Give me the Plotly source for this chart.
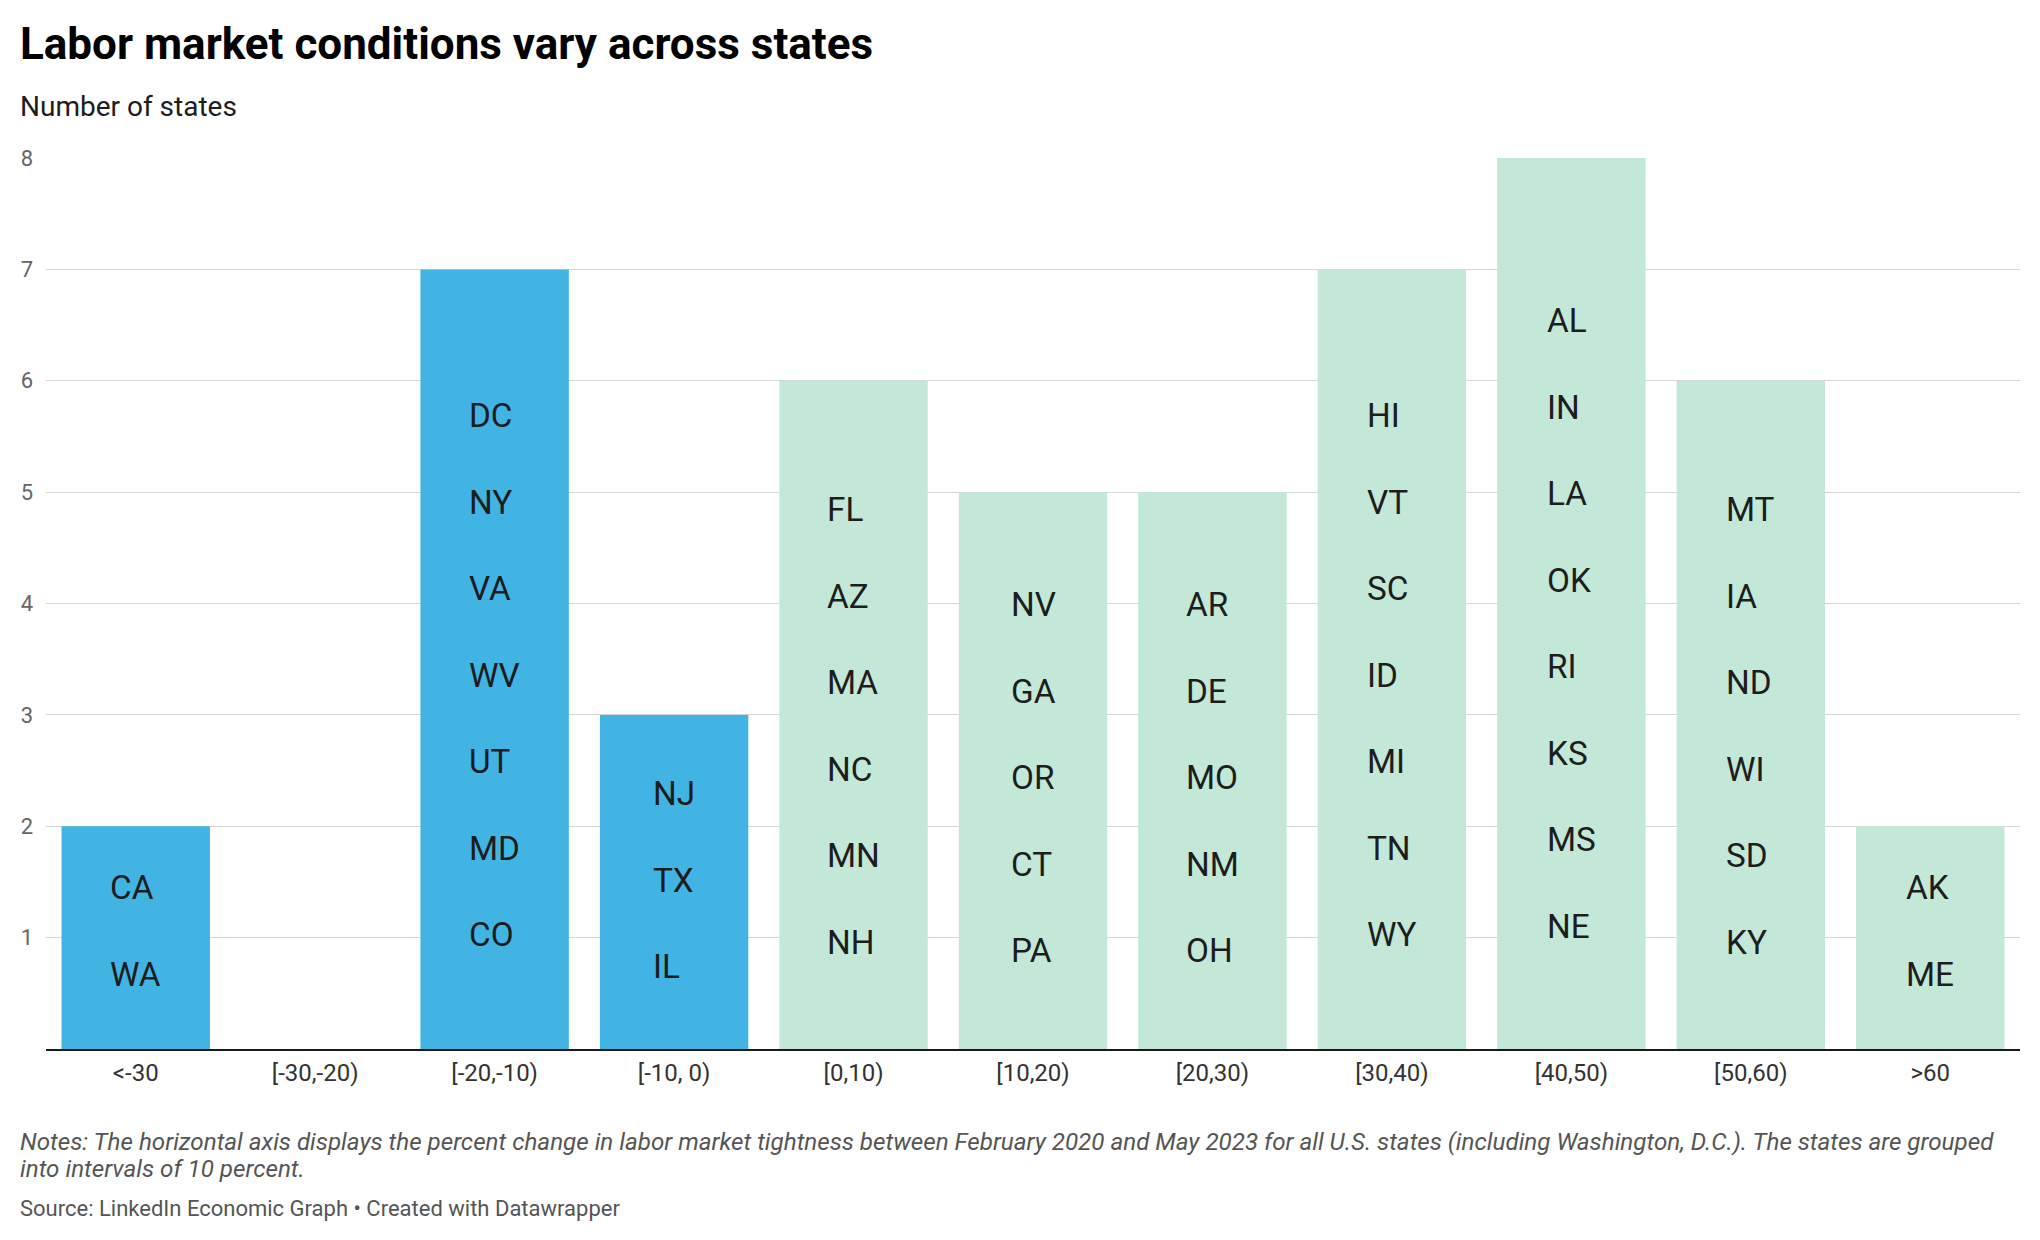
import plotly.graph_objects as go

# ---- data ----
categories = ["<-30", "[-30,-20)", "[-20,-10)", "[-10, 0)", "[0,10)", "[10,20)",
              "[20,30)", "[30,40)", "[40,50)", "[50,60)", ">60"]
counts = [2, 0, 7, 3, 6, 5, 5, 7, 8, 6, 2]
states = [
    ["CA", "WA"],
    [],
    ["DC", "NY", "VA", "WV", "UT", "MD", "CO"],
    ["NJ", "TX", "IL"],
    ["FL", "AZ", "MA", "NC", "MN", "NH"],
    ["NV", "GA", "OR", "CT", "PA"],
    ["AR", "DE", "MO", "NM", "OH"],
    ["HI", "VT", "SC", "ID", "MI", "TN", "WY"],
    ["AL", "IN", "LA", "OK", "RI", "KS", "MS", "NE"],
    ["MT", "IA", "ND", "WI", "SD", "KY"],
    ["AK", "ME"],
]
y_ticks = [1, 2, 3, 4, 5, 6, 7, 8]

title = "Labor market conditions vary across states"
subtitle = "Number of states"
notes_line1 = ("Notes: The horizontal axis displays the percent change in labor market tightness between "
               "February 2020 and May 2023 for all U.S. states (including Washington, D.C.). The states are grouped")
notes_line2 = "into intervals of 10 percent."
source = "Source: LinkedIn Economic Graph • Created with Datawrapper"

# ---- style ----
OFF = 8                      # default page margin around the figure
W, H = 2040 - 2 * OFF, 1240 - 2 * OFF
L, R, T, B = 46, 2020, 158, 1049   # plot area, in screen pixels
BLUE = "#42b4e3"
GREEN = "#c3e8d7"
FONT = "Roboto"


def is_negative(cat):
    return cat.startswith("<") or cat.startswith("[-")


colors = [BLUE if is_negative(c) else GREEN for c in categories]


def px(sx):
    return (sx - L) / (R - L)


def py(sy):
    return (B - sy) / (B - T)


fig = go.Figure()
fig.add_trace(go.Bar(
    x=categories, y=counts, marker=dict(color=colors, line=dict(width=0)),
    hoverinfo="x+y", showlegend=False,
))

annotations = []
for cat, n, sts in zip(categories, counts, states):
    if not sts:
        continue
    annotations.append(dict(
        x=cat, y=n / 2 - 0.04 * (n - 3) + 0.02, xref="x", yref="y",
        text="<br><br>".join(sts), showarrow=False, align="left",
        xanchor="center", yanchor="middle",
        font=dict(family=FONT, size=33.3, color="#1d1d1d"),
    ))

annotations += [
    dict(x=px(18), y=py(44), xref="paper", yref="paper", xanchor="left", yanchor="middle",
         text="<b>" + title + "</b>", showarrow=False,
         font=dict(family=FONT, size=44, color="#000000")),
    dict(x=px(18), y=py(106), xref="paper", yref="paper", xanchor="left", yanchor="middle",
         text=subtitle, showarrow=False,
         font=dict(family=FONT, size=28, color="#1d1d1d")),
    dict(x=px(18), y=py(1142), xref="paper", yref="paper", xanchor="left", yanchor="middle",
         text="<i>" + notes_line1 + "</i>", showarrow=False, align="left",
         font=dict(family=FONT, size=24.2, color="#555555")),
    dict(x=px(18), y=py(1169), xref="paper", yref="paper", xanchor="left", yanchor="middle",
         text="<i>" + notes_line2 + "</i>", showarrow=False, align="left",
         font=dict(family=FONT, size=24.2, color="#555555")),
    dict(x=px(18), y=py(1208), xref="paper", yref="paper", xanchor="left", yanchor="middle",
         text=source, showarrow=False,
         font=dict(family=FONT, size=22, color="#555555")),
]

fig.update_layout(
    width=W, height=H,
    margin=dict(l=L - OFF, r=(W + OFF) - R, t=T - OFF, b=(H + OFF) - B, pad=0),
    paper_bgcolor="white", plot_bgcolor="white",
    bargap=0.173,
    annotations=annotations,
    font=dict(family=FONT),
    xaxis=dict(
        type="category", showgrid=False, zeroline=False,
        showline=True, linecolor="#1a1a1a", linewidth=2.3,
        ticks="", ticklabelstandoff=1,
        tickfont=dict(family=FONT, size=24, color="#333333"),
    ),
    yaxis=dict(
        range=[0, 8], tickvals=y_ticks, showgrid=True, gridcolor="#d6d6d6", gridwidth=1.3,
        zeroline=False, showline=False, ticks="", ticklabelstandoff=12,
        tickfont=dict(family=FONT, size=22, color="#666666"),
    ),
)

fig.write_html("out.html")
